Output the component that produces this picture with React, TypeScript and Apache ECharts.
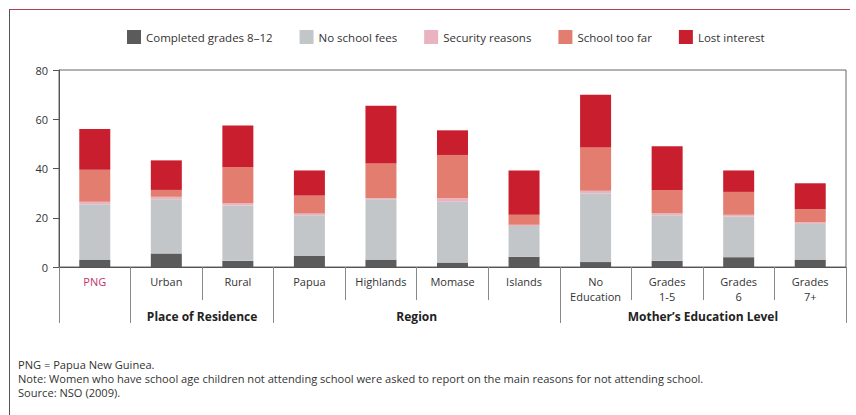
import React, { useEffect, useRef } from "react";
import * as echarts from "echarts";

const categories = ["PNG", "Urban", "Rural", "Papua", "Highlands", "Momase", "Islands", "No\nEducation", "Grades\n1-5", "Grades\n6", "Grades\n7+"];
const seriesNames = ["Completed grades 8\u201312", "No school fees", "Security reasons", "School too far", "Lost interest"];
const completed = [3, 5.5, 2.5, 4.5, 3, 1.8, 4.2, 2, 2.5, 4, 3];
const noFees = [22.5, 22, 22.5, 16.5, 24.5, 24.7, 12.5, 28, 18.5, 16.5, 14.5];
const security = [1, 1, 1, 0.7, 0.5, 1.5, 0.5, 1, 0.8, 0.7, 0.7];
const tooFar = [13, 2.8, 14.5, 7.3, 14, 17.5, 4, 17.5, 9.5, 9.3, 5.3];
const lost = [16.5, 12, 17, 10.2, 23.5, 10, 18, 21.5, 17.7, 8.7, 10.5];
const groupNames = ["Place of Residence", "Region", "Mother\u2019s Education Level"];
const groupCenters = [2, 5, 9];
const groupBounds = [0, 1, 3, 7, 11];
const yTicks = [0, 20, 40, 60, 80];
const footnotes = [
  "PNG = Papua New Guinea.",
  "Note: Women who have school age children not attending school were asked to report on the main reasons for not attending school.",
  "Source: NSO (2009).",
];

const colors = ["#5b5b5b", "#c3c6c8", "#e9b4bf", "#e27d70", "#c81e2d"];
const FONT = "'Open Sans', 'Liberation Sans', sans-serif";

export default function App() {
  const ref = useRef<HTMLDivElement>(null);
  useEffect(() => {
    if (!ref.current) return;
    const chart = echarts.init(ref.current, null, { renderer: "svg" });
    const data = [completed, noFees, security, tooFar, lost];
    chart.setOption({
      animation: false,
      backgroundColor: "#ffffff",
      textStyle: { fontFamily: FONT },
      legend: {
        left: 127,
        top: 30,
        padding: 0,
        itemWidth: 14,
        itemHeight: 14,
        itemGap: 27,
        icon: "rect",
        textStyle: { fontSize: 11.5, color: "#333", fontFamily: FONT },
        data: seriesNames,
      },
      grid: {
        left: 59,
        right: 10,
        top: 70,
        bottom: 148,
        show: true,
        borderColor: "#666",
        borderWidth: 1,
      },
      xAxis: [
        {
          type: "category",
          data: categories,
          axisLine: { lineStyle: { color: "#555", width: 1 } },
          axisTick: { show: true, interval: 0, length: 33, lineStyle: { color: "#888" } },
          axisLabel: {
            interval: 0,
            margin: 7,
            fontSize: 11,
            lineHeight: 15,
            fontFamily: FONT,
            color: (v: string, i: number) => (i === 0 ? "#c2346a" : "#333"),
          },
        },
        {
          type: "value",
          min: 0,
          max: 11,
          position: "bottom",
          axisLine: { show: false },
          splitLine: { show: false },
          axisTick: { show: true, customValues: groupBounds, length: 56, lineStyle: { color: "#888" } },
          axisLabel: {
            customValues: groupCenters,
            margin: 43,
            fontSize: 12,
            fontWeight: "bold",
            color: "#222",
            fontFamily: FONT,
            formatter: (v: number) => groupNames[groupCenters.indexOf(v)] ?? "",
          },
        },
      ],
      yAxis: {
        type: "value",
        min: 0,
        max: 80,
        interval: 20,
        axisLine: { show: true, lineStyle: { color: "#555" } },
        axisTick: { show: true, length: 6, lineStyle: { color: "#555" } },
        splitLine: { show: false },
        axisLabel: { margin: 11, fontSize: 11, color: "#333", fontFamily: FONT, customValues: yTicks },
      },
      series: seriesNames.map((name, k) => ({
        name,
        type: "bar",
        stack: "total",
        barWidth: 31,
        xAxisIndex: 0,
        itemStyle: { color: colors[k] },
        data: data[k],
      })),
      graphic: [
        { type: "line", shape: { x1: 9, y1: 9.5, x2: 850, y2: 9.5 }, style: { stroke: "#b8404e", lineWidth: 1 } },
        { type: "line", shape: { x1: 9.5, y1: 9, x2: 9.5, y2: 415 }, style: { stroke: "#555", lineWidth: 1 } },
        ...footnotes.map((t, i) => ({
          type: "text",
          left: 18,
          top: 359 + i * 14,
          style: { text: t, fontSize: 11.1, fill: "#333", fontFamily: FONT },
        })),
      ],
    });
    return () => chart.dispose();
  }, []);
  return <div ref={ref} style={{ position: "fixed", left: 0, top: 0, width: 856, height: 415, background: "#fff" }} />;
}
